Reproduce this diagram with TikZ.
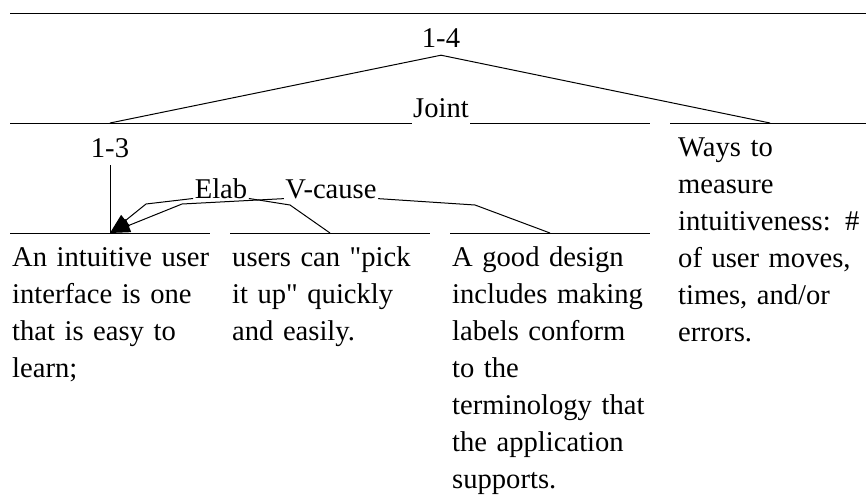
\documentclass[tikz,border=0pt]{standalone}
\usepackage{fontspec}
\newfontfamily\rstfam{Liberation Serif}
\usetikzlibrary{arrows.meta}
\newcommand{\rstfont}{\rstfam\fontsize{28.6}{37}\selectfont}
\tikzset{
  rstseg/.style={anchor=base west, text width=215pt, align=left, inner sep=0pt, font=\rstfont},
  rstlbl/.style={anchor=base, inner ysep=0pt, inner xsep=1.5pt, font=\rstfont},
  rstspan/.style={line width=1pt},
  rstarc/.style={line width=1pt},
  rstarrow/.style={line width=1pt, -{Triangle[length=20pt,width=14pt]}},
}

\begin{document}
\begin{tikzpicture}[x=1pt,y=-1pt]
  \useasboundingbox (0,0) rectangle (866,498);

  % span bars
  \draw[rstspan] (10,13) -- (866,13);
  \draw[rstspan] (10,123) -- (650,123);
  \draw[rstspan] (670,123) -- (866,123);
  \draw[rstspan] (10,233) -- (210,233);
  \draw[rstspan] (230,233) -- (430,233);
  \draw[rstspan] (450,233) -- (650,233);

  % segments
  \node[rstseg] (segA) at (12,266) {An intuitive user\\interface is one\\that is easy to\\learn;};
  \node[rstseg] (segB) at (232,266) {users can "pick\\it up" quickly\\and easily.};
  \node[rstseg] (segC) at (452,266) {A good design\\includes making\\labels conform\\to the\\terminology that\\the application\\supports.};
  \node[rstseg] (segD) at (678,156) {Ways to\\measure\\intuitiveness: \#\\of user moves,\\times, and/or\\errors.};

  % span and relation labels
  \node[rstlbl] (lbl14) at (441,47) {1-4};
  \node[rstlbl, fill=white, text depth=8pt] (lblJoint) at (441,117) {Joint};
  \node[rstlbl] (lbl13) at (110,157) {1-3};
  \node[rstlbl] (lblElab) at (221,198) {Elab};
  \node[rstlbl] (lblVcause) at (331,198) {V-cause};

  \coordinate (top13) at (110,123);
  \coordinate (topD) at (770,123);
  \coordinate (nucA) at (110,233);
  \coordinate (topB) at (330,233);
  \coordinate (topC) at (550,233);
  \coordinate (elabSat) at (290,205);
  \coordinate (elabNuc) at (146,204);
  \coordinate (vcSat) at (475,205);
  \coordinate (vcNuc) at (182,204);

  % joint
  \draw[rstarc] (top13) -- ([yshift=-8pt]lbl14.south) -- (topD);
  \draw[rstarc] ([yshift=-8pt]lbl13.south) -- (nucA);

  % elab, v-cause
  \draw[rstarc] (topB) -- (elabSat) -- (lblElab.south east);
  \draw[rstarrow] (lblElab.south west) -- (elabNuc) -- (nucA);
  \draw[rstarc] (topC) -- (vcSat) -- (lblVcause.south east);
  \draw[rstarrow] (lblVcause.south west) -- (vcNuc) -- (nucA);
\end{tikzpicture}
\end{document}
